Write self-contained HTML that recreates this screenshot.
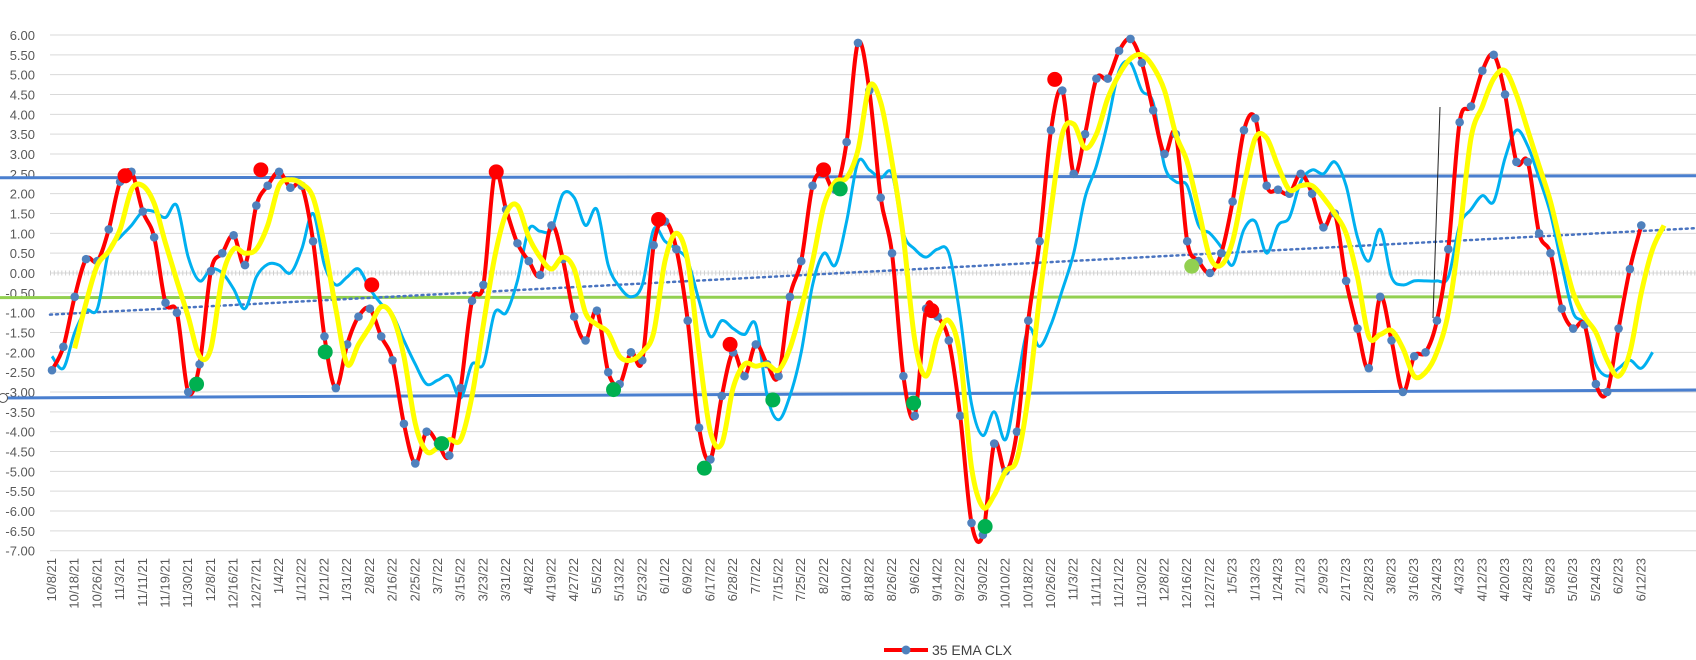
<!DOCTYPE html>
<html><head><meta charset="utf-8"><style>
body{margin:0;background:#fff;}
svg{display:block;font-family:"Liberation Sans",sans-serif;}
</style></head><body>
<svg id="chart" width="1696" height="660" viewBox="0 0 1696 660" xmlns="http://www.w3.org/2000/svg">
<g id="grid"></g>
<g id="ylab"></g>
<g id="xlab"></g>
<g id="refs"></g>
<g id="series"></g>
<g id="legend">
<line x1="884" y1="650" x2="928" y2="650" stroke="#ff0000" stroke-width="4"/>
<circle cx="906" cy="650" r="4.5" fill="#4f81bd"/>
<text x="932" y="655" font-size="14" fill="#404040" textLength="80">35 EMA CLX</text>
</g>
</svg>
<script>
const xLabels=["10/8/21","10/18/21","10/26/21","11/3/21","11/11/21","11/19/21","11/30/21","12/8/21","12/16/21","12/27/21","1/4/22","1/12/22","1/21/22","1/31/22","2/8/22","2/16/22","2/25/22","3/7/22","3/15/22","3/23/22","3/31/22","4/8/22","4/19/22","4/27/22","5/5/22","5/13/22","5/23/22","6/1/22","6/9/22","6/17/22","6/28/22","7/7/22","7/15/22","7/25/22","8/2/22","8/10/22","8/18/22","8/26/22","9/6/22","9/14/22","9/22/22","9/30/22","10/10/22","10/18/22","10/26/22","11/3/22","11/11/22","11/21/22","11/30/22","12/8/22","12/16/22","12/27/22","1/5/23","1/13/23","1/24/23","2/1/23","2/9/23","2/17/23","2/28/23","3/8/23","3/16/23","3/24/23","4/3/23","4/12/23","4/20/23","4/28/23","5/8/23","5/16/23","5/24/23","6/2/23","6/12/23"];
const yTicks=[6,5.5,5,4.5,4,3.5,3,2.5,2,1.5,1,0.5,0,-0.5,-1,-1.5,-2,-2.5,-3,-3.5,-4,-4.5,-5,-5.5,-6,-6.5,-7];
const redEma=[-2.45,-1.86,-0.6,0.35,0.3,1.1,2.3,2.55,1.55,0.9,-0.75,-1.0,-3.0,-2.3,0.05,0.5,0.95,0.2,1.7,2.2,2.55,2.15,2.2,0.8,-1.6,-2.9,-1.8,-1.1,
-0.9,-1.6,-2.2,-3.8,-4.8,-4.0,-4.3,-4.6,-2.9,-0.7,-0.3,2.5,1.6,0.75,0.3,-0.05,1.2,0.35,-1.1,-1.7,-0.95,-2.5,-2.8,-2.0,-2.2,0.7,1.3,
0.6,-1.2,-3.9,-4.7,-3.1,-2.0,-2.6,-1.8,-2.3,-2.6,-0.6,0.3,2.2,2.5,2.1,3.3,5.8,4.6,1.9,0.5,-2.6,-3.6,-0.9,-1.1,-1.7,-3.6,
-6.3,-6.6,-4.3,-5.0,-4.0,-1.2,0.8,3.6,4.6,2.5,3.5,4.9,4.9,5.6,5.9,5.3,4.1,3.0,3.5,0.8,0.3,0.0,0.5,1.8,3.6,3.9,2.2,2.1,2.0,2.5,
2.0,1.15,1.5,-0.2,-1.4,-2.4,-0.6,-1.7,-3.0,-2.1,-2.0,-1.2,0.6,3.8,4.2,5.1,5.5,4.5,2.8,2.8,1.0,0.5,-0.9,-1.4,-1.3,-2.8,-3.0,-1.4,0.1,1.2];
const cyanLine=[-2.1,-2.4,-1.5,-0.95,-0.9,0.55,0.9,1.2,1.55,1.55,1.4,1.7,0.4,-0.2,0.1,0.0,-0.4,-0.9,-0.1,0.22,0.2,0.0,0.6,1.5,0.2,-0.3,-0.1,0.1,
-0.4,-0.78,-1.05,-1.7,-2.3,-2.8,-2.7,-2.6,-3.15,-2.3,-2.3,-1.0,-1.0,-0.2,1.1,1.05,1.1,1.99,1.9,1.2,1.6,0.2,-0.35,-0.6,-0.3,1.1,0.8,
0.6,0.3,-0.7,-1.6,-1.2,-1.4,-1.55,-1.3,-3.1,-3.7,-3.1,-2.0,-0.3,0.5,0.2,1.3,2.8,2.6,2.4,2.5,1.0,0.6,0.4,0.6,0.5,-1.1,
-3.3,-4.1,-3.5,-4.2,-2.8,-1.4,-1.85,-1.3,-0.43,0.5,1.9,2.7,3.8,5.1,5.3,4.6,4.3,2.7,2.3,2.2,1.2,1.0,0.65,0.2,1.1,1.3,0.5,1.2,1.4,2.3,
2.6,2.5,2.8,2.2,0.9,0.3,1.1,-0.1,-0.3,-0.2,-0.2,-0.2,-0.1,1.2,1.6,1.95,1.8,2.9,3.6,3.2,2.4,1.5,0.2,-1.0,-1.3,-2.3,-2.6,-2.4,-2.2,-2.4,-2.0];
const yellowLine=[null,null,-1.9,-0.75,0.2,0.55,1.1,2.1,2.2,1.75,0.75,-0.2,-1.1,-2.1,-1.9,-0.1,0.6,0.5,0.6,1.2,2.2,2.35,2.25,1.9,0.7,-0.9,-2.3,-1.8,
-1.35,-0.85,-1.1,-2.1,-3.8,-4.5,-4.4,-4.2,-4.2,-3.1,-1.3,0.4,1.5,1.7,0.9,0.4,0.1,0.4,0.1,-1.0,-1.3,-1.5,-2.1,-2.2,-2.0,-1.5,0.3,
1.0,0.3,-2.0,-4.0,-4.3,-2.9,-2.3,-2.35,-2.3,-2.45,-1.9,-0.9,0.3,1.7,2.3,2.4,3.1,4.7,4.3,2.8,0.9,-1.7,-2.6,-1.6,-1.2,-2.1,
-4.9,-5.9,-5.6,-5.0,-4.7,-3.1,-0.6,1.6,3.5,3.75,3.15,3.5,4.4,5.0,5.4,5.5,5.2,4.6,3.5,2.8,1.6,0.4,0.2,0.8,2.2,3.4,3.4,2.7,2.1,2.2,
2.2,1.9,1.5,1.0,-0.1,-1.6,-1.55,-1.45,-1.9,-2.6,-2.5,-2.0,-1.0,1.0,3.4,4.2,4.9,5.1,4.5,3.6,2.7,1.8,0.6,-0.5,-1.1,-1.5,-2.2,-2.6,-2.0,-0.5,0.6,1.2];
const sigDays=[19.3,55.2,84.5,117.4,160.3,179.2,203.9,232.5,265,38.2,72.2,103,148.4,172.4,190.5,208.3,227.7,246.6,301.2];
const sigValues=[2.45,2.6,-0.3,2.55,1.35,-1.8,2.6,-0.95,4.88,-2.8,-1.99,-4.3,-2.94,-4.92,-3.2,2.12,-3.28,-6.39,0.17];
const sigTypes=["sell","sell","sell","sell","sell","sell","sell","sell","sell","buy","buy","buy","buy","buy","buy","buy","buy","buy","weak"];
const upperBand=[2.4,2.45];
const lowerBand=[-3.15,-2.95];
const greenLevel=[-0.62,-0.6];
const trendLine=[-1.05,1.13];

const NS="http://www.w3.org/2000/svg";
const X0=52,DX=3.784,STEP=3;
function xs(d){return X0+DX*d;}
function ys(v){return 273-39.67*v;}
function mk(tag,attrs,parent){const e=document.createElementNS(NS,tag);for(const k in attrs)e.setAttribute(k,attrs[k]);parent.appendChild(e);return e;}
const grid=document.getElementById('grid'),ylab=document.getElementById('ylab'),xlab=document.getElementById('xlab'),refs=document.getElementById('refs'),ser=document.getElementById('series');
yTicks.forEach(v=>{
  const l=mk('line',{x1:50,x2:1696,y1:ys(v),y2:ys(v),stroke:'#d9d9d9','stroke-width':1},grid);
  
  
  const t=mk('text',{x:35,y:ys(v)+5,'text-anchor':'end','font-size':13,fill:'#595959'},ylab);
  t.textContent=v.toFixed(2);
  
  
});
const ax=mk('line',{x1:50,x2:1696,y1:ys(0),y2:ys(0),stroke:'#d0d0d0','stroke-width':5,'stroke-dasharray':'1 2.78'},grid);


xLabels.forEach((s,i)=>{
  const x=xs(i*6)+4;
  const t=mk('text',{x:x,y:558,transform:`rotate(-90 ${x} 558)`,'text-anchor':'end','font-size':13,fill:'#595959'},xlab);
  t.textContent=s;
  
  
});
const ub=mk('line',{x1:0,x2:1696,y1:ys(upperBand[0]),y2:ys(upperBand[1]),stroke:'#4a7fcf','stroke-width':3},refs);


const lb=mk('line',{x1:0,x2:1696,y1:ys(lowerBand[0]),y2:ys(lowerBand[1]),stroke:'#4a7fcf','stroke-width':3},refs);


const gl=mk('line',{x1:0,x2:1622,y1:ys(greenLevel[0]),y2:ys(greenLevel[1]),stroke:'#92d050','stroke-width':3},refs);


const tl=mk('line',{x1:50,x2:1696,y1:ys(trendLine[0]),y2:ys(trendLine[1]),stroke:'#4a74c0','stroke-width':2.5,'stroke-dasharray':'2 4','stroke-linecap':'round'},refs);


const oc=mk('circle',{cx:3,cy:ys(lowerBand[0]),r:4.5,fill:'#fff',stroke:'#555','stroke-width':1},refs);


const bl=mk('line',{x1:1440,y1:107,x2:1433,y2:318,stroke:'#222','stroke-width':1},refs);


function smooth(pts){
  let d=`M${pts[0][0]},${pts[0][1]}`;
  for(let i=0;i<pts.length-1;i++){
    const p0=pts[i-1]||pts[i],p1=pts[i],p2=pts[i+1],p3=pts[i+2]||p2;
    const c1=[p1[0]+(p2[0]-p0[0])/6,p1[1]+(p2[1]-p0[1])/6],c2=[p2[0]-(p3[0]-p1[0])/6,p2[1]-(p3[1]-p1[1])/6];
    d+=`C${c1[0].toFixed(1)},${c1[1].toFixed(1)} ${c2[0].toFixed(1)},${c2[1].toFixed(1)} ${p2[0].toFixed(1)},${p2[1].toFixed(1)}`;
  }
  return d;
}
function pts(arr){const r=[];arr.forEach((v,i)=>{if(v!==null)r.push([xs(i*STEP),ys(v)]);});return r;}
const cy=mk('path',{d:smooth(pts(cyanLine)),fill:'none',stroke:'#00b0f0','stroke-width':3,'stroke-linejoin':'round'},ser);


const rd=mk('path',{d:smooth(pts(redEma)),fill:'none',stroke:'#ff0000','stroke-width':4,'stroke-linejoin':'round'},ser);


pts(redEma).forEach(p=>{
  const c=mk('circle',{cx:p[0],cy:p[1],r:4.3,fill:'#4f81bd'},ser);
  
  
});
const yl=mk('path',{d:smooth(pts(yellowLine)),fill:'none',stroke:'#ffff00','stroke-width':5,'stroke-linejoin':'round'},ser);


const colors={sell:'#ff0000',buy:'#00b050',weak:'#92d050'};
sigDays.forEach((d,i)=>{
  const c=mk('circle',{cx:xs(d),cy:ys(sigValues[i]),r:7.5,fill:colors[sigTypes[i]]},ser);
  
  
});
</script>
</body></html>
